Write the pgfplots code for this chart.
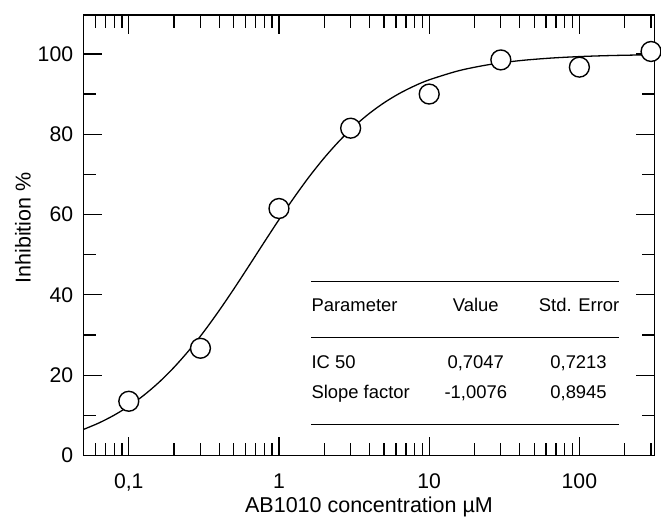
\documentclass[border=0pt]{standalone}
\usepackage{pgfplots}
\pgfplotsset{compat=1.18}
\usepackage{fontspec}
\setmainfont{Liberation Sans}
\begin{document}
\begin{tikzpicture}
\begin{axis}[
  scale only axis,
  width=573.7pt, height=442.7pt,
  xmode=log,
  xmin=0.05, xmax=316.23,
  ymin=0, ymax=109.7,
  axis line style={line width=1.4pt},
  every tick/.style={black, line width=1.3pt},
  tick align=inside,
  major tick length=19pt,
  minor tick length=12.7pt,
  xtick={0.1,1,10,100},
  xticklabels={0{,}1,1,10,100},
  minor xtick={0.05,0.06,0.07,0.08,0.09,0.2,0.3,0.4,0.5,0.6,0.7,0.8,0.9,2,3,4,5,6,7,8,9,20,30,40,50,60,70,80,90,200,300},
  ytick={0,20,40,60,80,100},
  yticklabels={0,20,40,60,80,100},
  minor ytick={10,30,50,70,90},
  tick label style={font=\fontsize{21.3}{25}\selectfont},
  xticklabel style={yshift=-15pt},
  yticklabel style={xshift=-7pt},
  label style={font=\fontsize{21.6}{25}\selectfont},
  xlabel={AB1010 concentration µM},
  ylabel={Inhibition \%},
  xlabel style={at={(axis description cs:0.5,-0.1294)}, anchor=base},
  ylabel style={at={(axis description cs:-0.0929,0.5166)}, anchor=base, rotate=0},
  clip mode=individual,
  clip marker paths=false,
]
\addplot[black, line width=1.3pt, smooth, no marks] coordinates {
(0.0501,6.51) (0.0631,8.08) (0.0794,9.98) (0.1,12.27) (0.1259,14.99)
(0.1585,18.19) (0.1995,21.90) (0.2512,26.13) (0.3162,30.84) (0.3981,36.00)
(0.5012,41.50) (0.6310,47.22) (0.7943,53.01) (1,58.73) (1.2589,64.21)
(1.5849,69.36) (1.9953,74.05) (2.5119,78.26) (3.1623,81.95) (3.9811,85.13)
(5.0119,87.84) (6.3096,90.11) (7.9433,91.99) (10,93.54) (15.849,95.84)
(25.119,97.34) (39.811,98.31) (63.096,98.93) (100,99.33) (158.49,99.58)
(251.19,99.73) (316.23,99.79)
};
\addplot[only marks, mark=*, mark size=10pt, mark options={fill=white, draw=black, line width=1.4pt}] coordinates {
(0.1,13.5) (0.3,26.7) (1,61.5) (3,81.5) (10,90.0) (30,98.5) (100,96.7) (300,100.6)
};
\draw[line width=1.4pt] (rel axis cs:0.399,0.3953) -- (rel axis cs:0.937,0.3953);
\draw[line width=1.4pt] (rel axis cs:0.399,0.2675) -- (rel axis cs:0.937,0.2675);
\draw[line width=1.4pt] (rel axis cs:0.399,0.070) -- (rel axis cs:0.937,0.070);
\begin{scope}[every node/.style={font=\fontsize{18.5}{21}\selectfont, inner sep=0pt}]
\node[anchor=base west] at (rel axis cs:0.399,0.326) {Parameter};
\node[anchor=base] at (rel axis cs:0.687,0.326) {Value};
\node[anchor=base] at (rel axis cs:0.868,0.326) {Std. Error};
\node[anchor=base west] at (rel axis cs:0.399,0.1965) {IC 50};
\node[anchor=base] at (rel axis cs:0.687,0.1965) {0,7047};
\node[anchor=base] at (rel axis cs:0.867,0.1965) {0,7213};
\node[anchor=base west] at (rel axis cs:0.399,0.1303) {Slope factor};
\node[anchor=base] at (rel axis cs:0.687,0.1303) {-1,0076};
\node[anchor=base] at (rel axis cs:0.867,0.1303) {0,8945};
\end{scope}
\path (rel axis cs:-0.1464,-0.134) rectangle (rel axis cs:1.0058,1.0339);
\end{axis}
\end{tikzpicture}
\end{document}
